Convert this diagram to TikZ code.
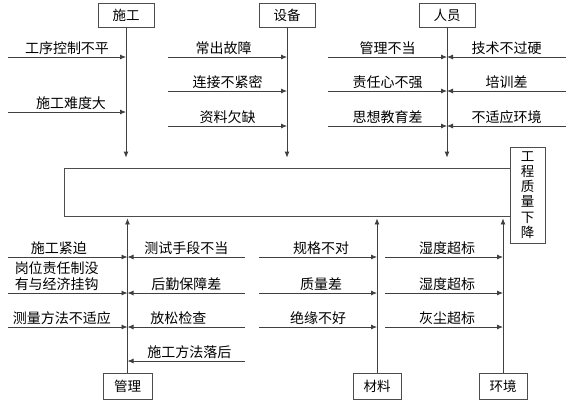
\documentclass[tikz,border=0pt]{standalone}
\usepackage{fontspec}
\newfontfamily\cjk{Noto Sans CJK SC}
\usetikzlibrary{positioning}
\usetikzlibrary{arrows.meta}

\tikzset{
  cause/.style={draw=black!70, line width=0.8pt, minimum width=56pt, minimum height=24pt, inner sep=0pt, font=\cjk\fontsize{13.5}{15}\selectfont},
  branch/.style={-{Latex[length=6pt,width=5pt]}, line width=0.8pt, draw=black!75},
  reason/.style={font=\cjk\fontsize{14}{15}\selectfont, inner sep=2pt, anchor=south, align=center},
}

\begin{document}
\begin{tikzpicture}[x=1pt, y=-1pt]
            \useasboundingbox (0,0) rectangle (571,405);

            \node [draw=black!70, line width=0.8pt, minimum width=446pt, minimum height=48pt, inner sep=0pt] (main) at (287,192) {};
            \node [draw=black!70, line width=0.8pt, fill=white, minimum width=35pt, minimum height=96pt, inner sep=0pt, align=center, font=\cjk\fontsize{13.5}{15.2}\selectfont] (result) at (527.5,195) {工\\程\\质\\量\\下\\降};

            \node [cause] (sg) at (126,15) {施工};
            \node [cause] (sb) at (287,15) {设备};
            \node [cause] (ry) at (447,15) {人员};
            \node [cause, minimum width=49pt, minimum height=26pt] (gl) at (127.5,386) {管理};
            \node [cause, minimum width=48pt, minimum height=26pt] (cl) at (377,386) {材料};
            \node [cause, minimum width=48pt, minimum height=26pt] (hj) at (503,386) {环境};

            \draw [branch] (sg) -- ([yshift=10pt]main.north -| sg);
            \draw [branch] (sb) -- ([yshift=10pt]main.north -| sb);
            \draw [branch] (ry) -- ([yshift=10pt]main.north -| ry);
            \draw [branch] (gl) -- ([yshift=-2pt]main.south -| gl);
            \draw [branch] (cl) -- ([yshift=-2pt]main.south -| cl);
            \draw [branch] (hj) -- ([yshift=-2pt]main.south -| hj);

            \coordinate (a1) at (8,57);
            \coordinate (a2) at (8,112);
            \coordinate (b1) at (168,57);
            \coordinate (b2) at (168,91);
            \coordinate (b3) at (168,126);
            \coordinate (c1) at (328,57);
            \coordinate (c2) at (328,91);
            \coordinate (c3) at (328,126);
            \coordinate (d1) at (566,57);
            \coordinate (d2) at (566,91);
            \coordinate (d3) at (566,126);

            \coordinate (e1) at (8,257);
            \coordinate (e2) at (8,293);
            \coordinate (e3) at (8,327);
            \coordinate (f1) at (245,257);
            \coordinate (f2) at (245,293);
            \coordinate (f3) at (245,327);
            \coordinate (f4) at (245,361);
            \coordinate (g1) at (259,257);
            \coordinate (g2) at (259,293);
            \coordinate (g3) at (259,327);
            \coordinate (h1) at (385,257);
            \coordinate (h2) at (385,293);
            \coordinate (h3) at (385,327);

            \draw [branch] (a1) -- node [reason] (ta1) {工序控制不平} (a1 -| sg);
            \draw [branch] (a2) -- node [reason, xshift=4pt] (ta2) {施工难度大} (a2 -| sg);
            \draw [branch] (b1) -- node [reason, xshift=-4pt] (tb1) {常出故障} (b1 -| sb);
            \draw [branch] (b2) -- node [reason] (tb2) {连接不紧密} (b2 -| sb);
            \draw [branch] (b3) -- node [reason] (tb3) {资料欠缺} (b3 -| sb);
            \draw [branch] (c1) -- node [reason] (tc1) {管理不当} (c1 -| ry);
            \draw [branch] (c2) -- node [reason] (tc2) {责任心不强} (c2 -| ry);
            \draw [branch] (c3) -- node [reason] (tc3) {思想教育差} (c3 -| ry);
            \draw [branch] (d1) -- node [reason] (td1) {技术不过硬} (d1 -| ry);
            \draw [branch] (d2) -- node [reason] (td2) {培训差} (d2 -| ry);
            \draw [branch] (d3) -- node [reason] (td3) {不适应环境} (d3 -| ry);

            \draw [branch] (e1) -- node [reason, xshift=-9pt] (te1) {施工紧迫} (e1 -| gl);
            \draw [branch] (e2) -- node [reason, xshift=-11pt, font=\cjk\fontsize{14}{15.5}\selectfont] (te2) {岗位责任制没\\有与经济挂钩} (e2 -| gl);
            \draw [branch] (e3) -- node [reason, xshift=-6pt] (te3) {测量方法不适应} (e3 -| gl);
            \draw [branch] (f1) -- node [reason] (tf1) {测试手段不当} (f1 -| gl);
            \draw [branch] (f2) -- node [reason] (tf2) {后勤保障差} (f2 -| gl);
            \draw [branch] (f3) -- node [reason, xshift=-8pt] (tf3) {放松检查} (f3 -| gl);
            \draw [branch] (f4) -- node [reason, xshift=3pt] (tf4) {施工方法落后} (f4 -| gl);
            \draw [branch] (g1) -- node [reason, xshift=3pt] (tg1) {规格不对} (g1 -| cl);
            \draw [branch] (g2) -- node [reason, xshift=3pt] (tg2) {质量差} (g2 -| cl);
            \draw [branch] (g3) -- node [reason] (tg3) {绝缘不好} (g3 -| cl);
            \draw [branch] (h1) -- node [reason, xshift=3pt] (th1) {湿度超标} (h1 -| hj);
            \draw [branch] (h2) -- node [reason, xshift=3pt] (th2) {湿度超标} (h2 -| hj);
            \draw [branch] (h3) -- node [reason, xshift=3pt] (th3) {灰尘超标} (h3 -| hj);
        \end{tikzpicture}
\end{document}
